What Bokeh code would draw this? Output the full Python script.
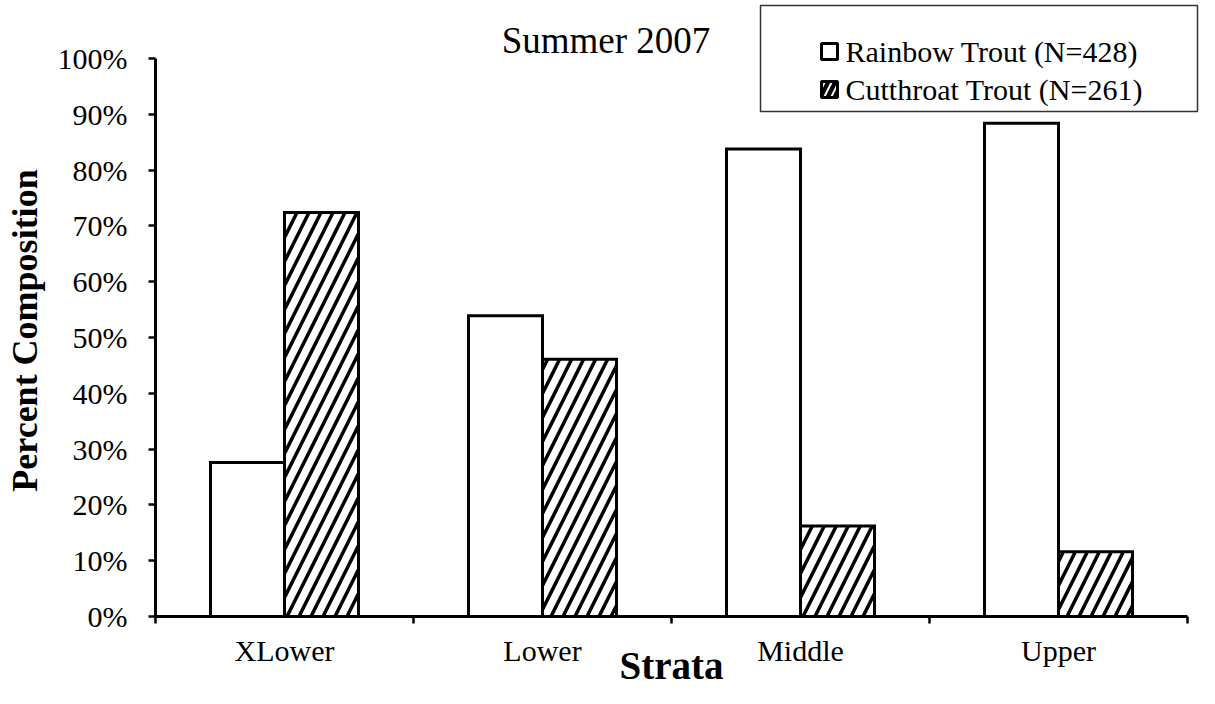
import math
from bokeh.plotting import figure
from bokeh.models import Range1d, FixedTicker, Label, ColumnDataSource
from bokeh.core.properties import value
from bokeh.embed import file_html
from bokeh.resources import INLINE

# ---------------- data ----------------
categories = ["XLower", "Lower", "Middle", "Upper"]
series_names = ["Rainbow Trout (N=428)", "Cutthroat Trout (N=261)"]
rainbow = [27.6, 53.9, 83.8, 88.4]
cutthroat = [72.4, 46.1, 16.2, 11.6]
y_ticks = [0, 10, 20, 30, 40, 50, 60, 70, 80, 90, 100]
y_tick_labels = ["0%", "10%", "20%", "30%", "40%", "50%", "60%", "70%", "80%", "90%", "100%"]
chart_title = "Summer 2007"
x_title = "Strata"
y_title = "Percent Composition"

# ---------------- layout (pixel geometry) ----------------
W, H = 1199, 688
AX_X, AX_Y = 155, 616      # pixel position of x=0 / y=0
PX_CAT = 258.0             # pixels per category
PX_PCT = 5.58              # pixels per percent
FONT = "Liberation Serif"


def dx(px):
    return (px - AX_X) / PX_CAT


def dy(py):
    return (AX_Y - py) / PX_PCT


p = figure(width=W, height=H, output_backend="svg", toolbar_location=None,
           x_range=Range1d(dx(0), dx(W)), y_range=Range1d(dy(H), dy(0)),
           min_border=0, min_border_left=0, min_border_right=0,
           min_border_top=0, min_border_bottom=0)
p.outline_line_color = None
p.xgrid.visible = False
p.ygrid.visible = False
p.background_fill_color = "white"
p.border_fill_color = "white"

bw = 74.0 / PX_CAT
centers = [i + 0.5 for i in range(len(categories))]
src = ColumnDataSource(dict(
    xr=[c - bw / 2 for c in centers],
    xc=[c + bw / 2 for c in centers],
    rainbow=rainbow,
    cutthroat=cutthroat,
))
p.vbar(x="xr", top="rainbow", bottom=0, width=bw, source=src,
       fill_color="white", line_color="black", line_width=3, line_join="miter")
p.vbar(x="xc", top="cutthroat", bottom=0, width=bw, source=src,
       fill_color="white", hatch_pattern="/", hatch_color="black",
       hatch_weight=3.5, hatch_scale=24,
       line_color="black", line_width=3, line_join="miter")

# x axis (crossing at y = 0)
xa = p.xaxis[0]
xa.fixed_location = 0
xa.ticker = FixedTicker(ticks=centers, minor_ticks=list(range(len(categories) + 1)))
xa.major_label_overrides = {c: cat for c, cat in zip(centers, categories)}
xa.bounds = (0, len(categories))
xa.major_tick_line_color = None
xa.major_tick_out = 0
xa.major_tick_in = 0
xa.minor_tick_out = 7
xa.minor_tick_in = 0
xa.minor_tick_line_width = 2.5
xa.minor_tick_line_color = "black"
xa.axis_line_width = 3
xa.axis_line_color = "black"
xa.major_label_standoff = 10
xa.major_label_text_font = FONT
xa.major_label_text_font_size = "30px"
xa.major_label_text_color = "black"

# y axis (crossing at x = 0)
ya = p.yaxis[0]
ya.fixed_location = 0
ya.ticker = FixedTicker(ticks=y_ticks, minor_ticks=[])
ya.major_label_overrides = {t: l for t, l in zip(y_ticks, y_tick_labels)}
ya.bounds = (0, 100)
ya.major_tick_out = 7
ya.major_tick_in = 0
ya.major_tick_line_width = 2.5
ya.major_tick_line_color = "black"
ya.axis_line_width = 3
ya.axis_line_color = "black"
ya.major_label_standoff = 21
ya.major_label_text_font = FONT
ya.major_label_text_font_size = "30px"
ya.major_label_text_color = "black"

# titles (positions are the vertical middle of the text)
p.add_layout(Label(x=dx(605.5), y=dy(40), text=chart_title, text_font=FONT,
                   text_font_size="37px", text_align="center",
                   text_baseline="middle", text_color="black"))
p.add_layout(Label(x=dx(671), y=dy(665), text=x_title, text_font=FONT,
                   text_font_style="bold", text_font_size="39px",
                   text_align="center", text_baseline="middle",
                   text_color="black"))
p.add_layout(Label(x=dx(24), y=dy(330), text=y_title, text_font=FONT,
                   text_font_style="bold", text_font_size="36px", angle=math.pi / 2,
                   text_align="center", text_baseline="middle", text_color="black"))

# legend (drawn by hand to match the boxed legend)
p.quad(left=[dx(760)], right=[dx(1197)], top=[dy(5)], bottom=[dy(111)],
       fill_color="white", line_color="#333333", line_width=1.5)
mx = dx(829)
p.scatter(x=[mx], y=[dy(51)], marker="square", size=16, fill_color="white",
          line_color="black", line_width=3)
p.scatter(x=[mx], y=[dy(89)], marker="square", size=16, fill_color="black",
          line_color="black", line_width=3, hatch_pattern="/", hatch_color="white",
          hatch_weight=2, hatch_scale=14)
p.text(x=[dx(845), dx(845)], y=[dy(51), dy(89)], text=series_names,
       text_font=value(FONT), text_font_size="30px", text_baseline="middle",
       text_align="left", text_color="black")

open("out.html", "w").write(file_html(p, INLINE))
